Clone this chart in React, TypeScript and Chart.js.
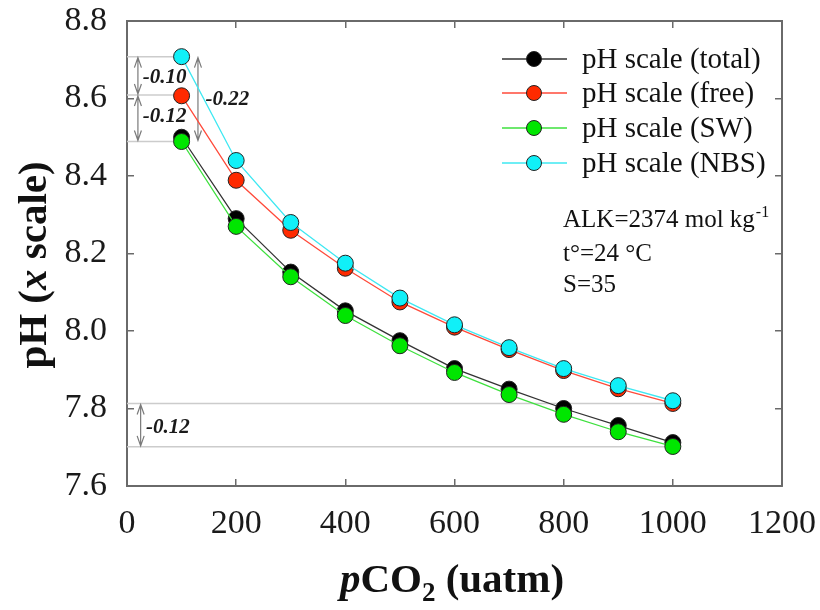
import React, { useEffect, useRef } from "react";
import { Chart, registerables } from "chart.js";
Chart.register(...registerables);

// ---- data ----
const pco2 = [100, 200, 300, 400, 500, 600, 700, 800, 900, 1000];
const phTotal = [8.5, 8.29, 8.152, 8.052, 7.975, 7.903, 7.85, 7.8, 7.756, 7.712];
const phFree = [8.607, 8.389, 8.26, 8.162, 8.075, 8.01, 7.952, 7.898, 7.851, 7.813];
const phSW = [8.489, 8.27, 8.14, 8.04, 7.962, 7.893, 7.836, 7.785, 7.74, 7.702];
const phNBS = [8.708, 8.44, 8.28, 8.175, 8.085, 8.016, 7.957, 7.903, 7.859, 7.82];

const seriesLabels = ["pH scale (total)", "pH scale (free)", "pH scale (SW)", "pH scale (NBS)"];
const seriesValues = [phTotal, phFree, phSW, phNBS];
const lineColors = ["#333333", "#ff4a3a", "#3ee03e", "#3ee8f2"];
const fillColors = ["#000000", "#ff2a00", "#00e600", "#10f0f8"];
const drawOrder = [3, 2, 1, 0];

const xTicksMin = 0;
const xTicksMax = 1200;
const xStep = 200;
const yTicksMin = 7.6;
const yTicksMax = 8.8;
const yStep = 0.2;

// reference lines: [y, xFrom, xTo]
const refLines = [
  [8.708, 0, 100],
  [8.609, 0, 100],
  [8.489, 0, 100],
  [7.813, 0, 1000],
  [7.701, 0, 1000],
];
// double arrows: [x, yFrom, yTo]
const arrows = [
  [20, 8.708, 8.609],
  [20, 8.609, 8.489],
  [130, 8.708, 8.489],
  [25, 7.813, 7.701],
];
// arrow labels: [text, x, y]
const diffLabels: [string, number, number][] = [
  ["-0.10", 29, 8.655],
  ["-0.12", 29, 8.553],
  ["-0.22", 144, 8.596],
  ["-0.12", 35, 7.752],
];

const SERIF = "'Liberation Serif', 'Times New Roman', serif";
Chart.defaults.font.family = SERIF;

const overlayPlugin = {
  id: "overlay",
  beforeDatasetsDraw(chart: any) {
    const { ctx } = chart;
    const xs = chart.scales.x;
    const ys = chart.scales.y;
    ctx.save();
    ctx.strokeStyle = "#cccccc";
    ctx.lineWidth = 1.5;
    refLines.forEach(([yv, x0, x1]) => {
      const py = ys.getPixelForValue(yv);
      ctx.beginPath();
      ctx.moveTo(xs.getPixelForValue(x0), py);
      ctx.lineTo(xs.getPixelForValue(x1), py);
      ctx.stroke();
    });
    ctx.strokeStyle = "#7a7a7a";
    ctx.lineWidth = 1.2;
    arrows.forEach(([xv, y0, y1]) => {
      const px = xs.getPixelForValue(xv);
      const a = ys.getPixelForValue(y0) + 1;
      const b = ys.getPixelForValue(y1) - 1;
      ctx.beginPath();
      ctx.moveTo(px, a);
      ctx.lineTo(px, b);
      ctx.moveTo(px - 3.5, a + 10);
      ctx.lineTo(px, a);
      ctx.lineTo(px + 3.5, a + 10);
      ctx.moveTo(px - 3.5, b - 10);
      ctx.lineTo(px, b);
      ctx.lineTo(px + 3.5, b - 10);
      ctx.stroke();
    });
    ctx.fillStyle = "#1a1a1a";
    ctx.font = `italic bold 21px ${SERIF}`;
    ctx.textAlign = "left";
    ctx.textBaseline = "middle";
    diffLabels.forEach(([t, xv, yv]) => {
      ctx.fillText(t, xs.getPixelForValue(xv), ys.getPixelForValue(yv));
    });
    ctx.restore();
  },
  afterDraw(chart: any) {
    const { ctx } = chart;
    ctx.save();
    // legend
    const rowY = [59, 93, 128, 163];
    seriesLabels.forEach((lab, i) => {
      const y = rowY[i];
      ctx.strokeStyle = lineColors[i];
      ctx.lineWidth = 1.5;
      ctx.beginPath();
      ctx.moveTo(502, y);
      ctx.lineTo(567, y);
      ctx.stroke();
      ctx.beginPath();
      ctx.arc(534, y, 7.5, 0, Math.PI * 2);
      ctx.fillStyle = fillColors[i];
      ctx.fill();
      ctx.strokeStyle = "#222";
      ctx.lineWidth = 1;
      ctx.stroke();
      ctx.fillStyle = "#111";
      ctx.font = `29px ${SERIF}`;
      ctx.textAlign = "left";
      ctx.textBaseline = "alphabetic";
      ctx.fillText(lab, 582, y + 9);
    });
    // info text
    ctx.fillStyle = "#111";
    ctx.font = `25px ${SERIF}`;
    const t1 = "ALK=2374 mol kg";
    ctx.fillText(t1, 563, 227);
    const w1 = ctx.measureText(t1).width;
    ctx.font = `16px ${SERIF}`;
    ctx.fillText("-1", 563 + w1 + 1, 217);
    ctx.font = `25px ${SERIF}`;
    ctx.fillText("t\u00b0=24 \u00b0C", 563, 261);
    ctx.fillText("S=35", 563, 292);

    // x title
    const big = 41;
    const parts: [string, string, number][] = [
      ["p", `italic bold ${big}px ${SERIF}`, 0],
      ["CO", `bold ${big}px ${SERIF}`, 0],
      ["2", `bold ${Math.round(big * 0.65)}px ${SERIF}`, 9],
      [" (uatm)", `bold ${big}px ${SERIF}`, 0],
    ];
    let total = 0;
    parts.forEach(([t, f]) => {
      ctx.font = f;
      total += ctx.measureText(t).width;
    });
    let cx = 452 - total / 2;
    parts.forEach(([t, f, dy]) => {
      ctx.font = f;
      ctx.fillText(t, cx, 592 + dy);
      cx += ctx.measureText(t).width;
    });

    // y title
    ctx.translate(46, 265);
    ctx.rotate(-Math.PI / 2);
    const yparts: [string, string][] = [
      ["pH (", `bold ${big}px ${SERIF}`],
      ["x", `italic bold ${big}px ${SERIF}`],
      [" scale)", `bold ${big}px ${SERIF}`],
    ];
    let ytotal = 0;
    yparts.forEach(([t, f]) => {
      ctx.font = f;
      ytotal += ctx.measureText(t).width;
    });
    let yx = -ytotal / 2;
    yparts.forEach(([t, f]) => {
      ctx.font = f;
      ctx.fillText(t, yx, 0);
      yx += ctx.measureText(t).width;
    });
    ctx.restore();
  },
};

const zeroPad = (s: any) => {
  s.paddingTop = 0;
  s.paddingBottom = 0;
  s.paddingLeft = 0;
  s.paddingRight = 0;
};

export default function App() {
  const ref = useRef<HTMLCanvasElement | null>(null);
  useEffect(() => {
    if (!ref.current) return;
    const axisColor = "#6a6a6a";
    const tickFont = { family: SERIF, size: 34 };
    const chart = new Chart(ref.current, {
      type: "line",
      data: {
        datasets: seriesLabels.map((label, i) => ({
          label,
          data: pco2.map((x, j) => ({ x, y: seriesValues[i][j] })),
          borderColor: lineColors[i],
          backgroundColor: fillColors[i],
          pointBackgroundColor: fillColors[i],
          pointBorderColor: "#222",
          pointBorderWidth: 1,
          pointRadius: 8,
          borderWidth: 1.3,
          tension: 0,
          order: drawOrder[i],
        })),
      },
      options: {
        animation: false,
        responsive: false,
        layout: { padding: { top: 21, right: 38, left: 0, bottom: 0 } },
        plugins: { legend: { display: false }, tooltip: { enabled: false } },
        scales: {
          x: {
            type: "linear",
            position: "bottom",
            min: xTicksMin,
            max: xTicksMax,
            ticks: {
              stepSize: xStep,
              font: tickFont,
              color: "#1a1a1a",
              padding: 25,
              maxRotation: 0,
              callback: (v: any) => String(Math.round(Number(v))),
            },
            grid: { drawOnChartArea: false, tickLength: -7, color: axisColor, lineWidth: 1.5 },
            border: { color: axisColor, width: 2 },
            afterFit: (s: any) => { s.height = 124; zeroPad(s); },
          },
          x2: {
            type: "linear",
            position: "top",
            min: xTicksMin,
            max: xTicksMax,
            ticks: { stepSize: xStep, display: false },
            grid: { drawOnChartArea: false, tickLength: -7, color: axisColor, lineWidth: 1.5 },
            border: { color: axisColor, width: 2 },
            afterFit: (s: any) => { s.height = 0; zeroPad(s); },
          },
          y: {
            type: "linear",
            position: "left",
            min: yTicksMin,
            max: yTicksMax,
            ticks: {
              stepSize: yStep,
              font: tickFont,
              color: "#1a1a1a",
              padding: 27,
              callback: (v: any) => Number(v).toFixed(1),
            },
            grid: { drawOnChartArea: false, tickLength: -7, color: axisColor, lineWidth: 1.5 },
            border: { color: axisColor, width: 2 },
            afterFit: (s: any) => { s.width = 127; zeroPad(s); },
          },
          y2: {
            type: "linear",
            position: "right",
            min: yTicksMin,
            max: yTicksMax,
            ticks: { stepSize: yStep, display: false },
            grid: { drawOnChartArea: false, tickLength: -7, color: axisColor, lineWidth: 1.5 },
            border: { color: axisColor, width: 2 },
            afterFit: (s: any) => { s.width = 0; zeroPad(s); },
          },
        },
      },
      plugins: [overlayPlugin],
    } as any);
    return () => chart.destroy();
  }, []);
  return (
    <div style={{ position: "absolute", left: 0, top: 0, width: 820, height: 610, background: "#fff" }}>
      <canvas ref={ref} width={820} height={610} style={{ display: "block" }} />
    </div>
  );
}
